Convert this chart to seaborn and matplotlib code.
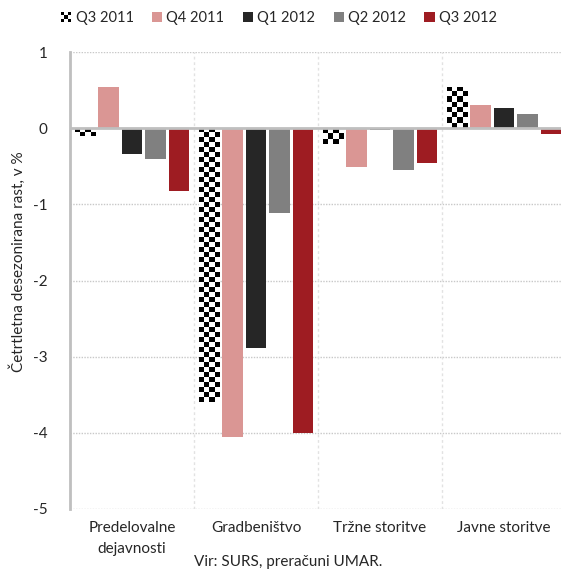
import numpy as np
import pandas as pd
import matplotlib
matplotlib.use('Agg')
import matplotlib.pyplot as plt
import seaborn as sns
from matplotlib.patches import Patch, Rectangle
from matplotlib.legend_handler import HandlerBase

# ---- data ----
sectors = ['Predelovalne\ndejavnosti', 'Gradbeništvo', 'Tržne storitve', 'Javne storitve']
quarters = ['Q3 2011', 'Q4 2011', 'Q1 2012', 'Q2 2012', 'Q3 2012']
q3_2011 = [-0.10, -3.60, -0.21, 0.54]
q4_2011 = [0.54, -4.05, -0.51, 0.31]
q1_2012 = [-0.34, -2.89, -0.02, 0.27]
q2_2012 = [-0.40, -1.12, -0.55, 0.18]
q3_2012 = [-0.82, -4.00, -0.46, -0.08]
colors = ['#FFFFFF', '#DA9694', '#262626', '#808080', '#9E1C22']

series = [q3_2011, q4_2011, q1_2012, q2_2012, q3_2012]
df = pd.DataFrame({
    'sector': np.repeat([sectors], len(quarters), axis=0).ravel(),
    'quarter': np.repeat(quarters, len(sectors)),
    'value': np.concatenate(series),
})

sns.set_style('white')
plt.rcParams['font.family'] = ['Lato', 'DejaVu Sans']
plt.rcParams['axes.unicode_minus'] = False

fig = plt.figure(figsize=(5.61, 5.70), dpi=100)
ax = fig.add_axes([70 / 561, 61 / 570, 496 / 561, 457 / 570])

sns.barplot(data=df, x='sector', y='value', hue='quarter', order=sectors,
            hue_order=quarters, palette=colors, saturation=1, width=0.95,
            gap=0.12, linewidth=0, errorbar=None, ax=ax, legend=False)

# checkerboard fill for the Q3 2011 bars (clipped to each bar)
cell_px = 5.0
for bar in ax.containers[0]:
    x0, y0 = bar.get_x(), bar.get_y()
    w, h = bar.get_width(), bar.get_height()
    ymin, ymax = min(y0, y0 + h), max(y0, y0 + h)
    nx = max(1, int(round(w * 124 / cell_px)))
    ny = max(1, int(round((ymax - ymin) * 76.2 / cell_px)))
    board = (np.add.outer(np.arange(ny), np.arange(nx)) % 2).astype(float)
    im = ax.imshow(board, cmap='gray', vmin=0, vmax=1, interpolation='nearest',
                   extent=[x0, x0 + w, ymin, ymax], aspect='auto', origin='upper', zorder=3)
    im.set_clip_path(bar)

ax.set_xticks(range(4))
ax.set_xticklabels(sectors, fontsize=11, linespacing=1.6)
ax.set_yticks(range(-5, 2))
ax.tick_params(axis='y', length=0, pad=16, labelsize=11)
ax.tick_params(axis='x', length=0, pad=9)
ax.set_xlabel('')
ax.set_ylabel('')

for yv in range(-5, 2):
    if yv == 0:
        ax.axhline(0, color='#BFBFBF', lw=2, zorder=4)
    else:
        ax.axhline(yv, color='#C8C8C8', lw=1, ls=(0, (1, 1)), zorder=0)
for xv in [0.5, 1.5, 2.5, 3.5]:
    ax.axvline(xv, color='#E2E2E2', lw=1, ls=(0, (2, 2)), zorder=0)

for s in ['top', 'right', 'bottom']:
    ax.spines[s].set_visible(False)
ax.spines['left'].set_color('#BFBFBF')
ax.spines['left'].set_linewidth(2)

# images changed the limits, restore them
ax.set_xlim(-0.5, 3.5)
ax.set_ylim(-5, 1)

fig.text(18 / 561, 1 - 262 / 570, 'Četrtletna desezonirana rast, v %', rotation=90,
         ha='center', va='center', fontsize=11)
fig.text(288 / 561, 1 - 562 / 570, 'Vir: SURS, preračuni UMAR.',
         ha='center', va='center', fontsize=11)


class CheckerHandler(HandlerBase):
    def create_artists(self, legend, orig_handle, xd, yd, width, height, fontsize, trans):
        size = height
        x0 = xd + width - size
        n = 3
        c = size / n
        arts = [Rectangle((x0, yd), size, size, facecolor='white', edgecolor='none', transform=trans)]
        for i in range(n):
            for j in range(n):
                if (i + j) % 2 == 0:
                    arts.append(Rectangle((x0 + i * c, yd + j * c), c, c, facecolor='black',
                                          edgecolor='none', transform=trans))
        return arts


handles = [Patch(facecolor=c, edgecolor='none') for c in colors]
fig.legend(handles, quarters, loc='center', bbox_to_anchor=(279 / 561, 1 - 18 / 570),
           ncol=5, frameon=False, fontsize=10.5, handlelength=0.7, handleheight=0.7,
           handletextpad=0.3, columnspacing=1.25,
           handler_map={handles[0]: CheckerHandler()})

fig.savefig('out.png', dpi=100)
